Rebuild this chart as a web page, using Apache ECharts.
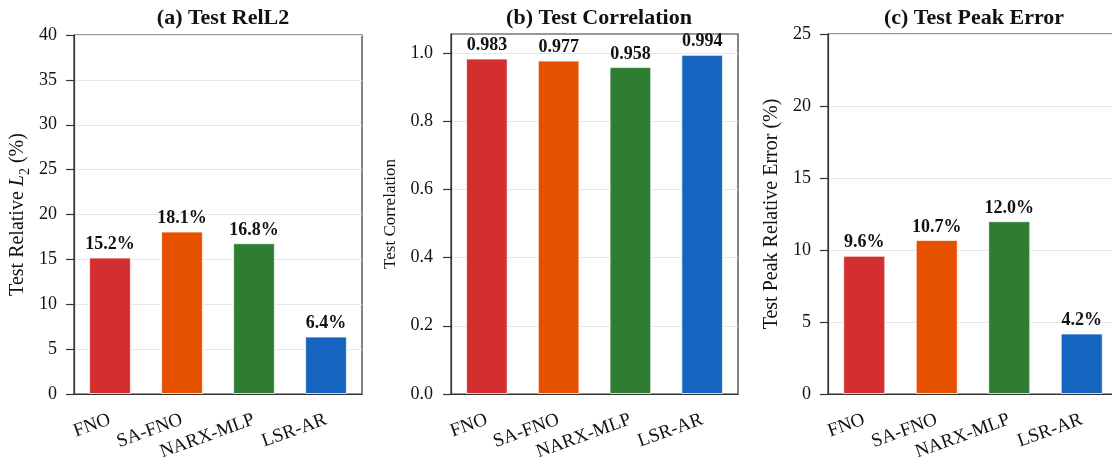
<!DOCTYPE html>
<html>
<head>
<meta charset="utf-8">
<script src="https://cdn.jsdelivr.net/npm/echarts@6/dist/echarts.min.js"></script>
<style>
  html, body { margin: 0; padding: 0; background: #fff; }
  #chart { width: 1112px; height: 460px; }
</style>
</head>
<body>
<div id="chart"></div>
<script>
const models = ['FNO', 'SA-FNO', 'NARX-MLP', 'LSR-AR'];
const colors = ['#d32f2f', '#e65100', '#2e7d32', '#1565c0'];

const relL2 = [15.2, 18.1, 16.8, 6.4];
const correlation = [0.983, 0.977, 0.958, 0.994];
const peakError = [9.6, 10.7, 12.0, 4.2];

const titles = ['(a) Test RelL2', '(b) Test Correlation', '(c) Test Peak Error'];
const corrTicks = [0, 0.2, 0.4, 0.6, 0.8, 1.0];

const FONT = 'Liberation Serif, Times New Roman, serif';
const AXIS = '#333';
const TEXT = '#111';

const grids = [
  { left: 74, top: 35, width: 288, height: 359 },
  { left: 451, top: 34, width: 287, height: 360 },
  { left: 828, top: 34, width: 290, height: 360 }
];

function xAxis(i) {
  return {
    type: 'category',
    gridIndex: i,
    data: models,
    axisLine: { lineStyle: { color: AXIS, width: 1.2 } },
    axisTick: { alignWithLabel: true, length: 8, lineStyle: { color: AXIS, width: 1.2 } },
    axisLabel: { rotate: 20, margin: 25, fontSize: 19, color: TEXT, fontFamily: FONT, interval: 0 }
  };
}

function yAxis(i, opts) {
  return Object.assign({
    type: 'value',
    gridIndex: i,
    min: 0,
    nameLocation: 'middle',
    nameGap: 46,
    nameTextStyle: { fontSize: 20, color: TEXT, fontFamily: FONT },
    axisLine: { show: true, lineStyle: { color: AXIS, width: 1.2 } },
    axisTick: { show: true, length: 8, lineStyle: { color: AXIS, width: 1.2 } },
    axisLabel: { fontSize: 18, color: TEXT, fontFamily: FONT, margin: 17 },
    splitLine: { lineStyle: { color: '#e8e8e8', width: 1 } }
  }, opts);
}

function barSeries(i, values, fmt) {
  return {
    type: 'bar',
    xAxisIndex: i,
    yAxisIndex: i,
    barWidth: '58%',
    data: values.map((v, k) => ({
      value: v,
      itemStyle: { color: colors[k], borderColor: 'rgba(255,255,255,0.7)', borderWidth: 1 }
    })),
    label: {
      show: true,
      position: 'top',
      distance: 4,
      fontSize: 18,
      fontWeight: 'bold',
      color: TEXT,
      fontFamily: FONT,
      formatter: p => fmt(p.value)
    }
  };
}

const chart = echarts.init(document.getElementById('chart'));
chart.setOption({
  backgroundColor: '#fff',
  animation: false,
  title: titles.map((t, i) => ({
    text: t,
    left: [218, 594, 969][i],
    top: 2,
    textAlign: 'center',
    textStyle: { fontSize: 22, fontWeight: 'bold', color: TEXT, fontFamily: FONT }
  })),
  grid: grids.map(g => Object.assign({
    show: true, borderColor: AXIS, borderWidth: 1.2,
    containLabel: false, outerBoundsMode: 'none'
  }, g)),
  xAxis: [xAxis(0), xAxis(1), xAxis(2)],
  yAxis: [
    yAxis(0, {
      max: 40, interval: 5,
      name: 'Test Relative {i|L}{s|2} (%)',
      nameGap: 46,
      nameTextStyle: {
        fontSize: 20, color: TEXT, fontFamily: FONT,
        rich: {
          i: { fontSize: 20, fontStyle: 'italic', color: TEXT, fontFamily: FONT },
          s: { fontSize: 14, color: TEXT, fontFamily: FONT, verticalAlign: 'bottom', padding: [0, 0, -4, 0] }
        }
      }
    }),
    yAxis(1, {
      max: 1.055,
      name: 'Test Correlation',
      nameGap: 52,
      nameTextStyle: { fontSize: 17, color: TEXT, fontFamily: FONT },
      axisTick: { show: true, length: 8, lineStyle: { color: AXIS, width: 1.2 }, customValues: corrTicks },
      axisLabel: {
        fontSize: 18, color: TEXT, fontFamily: FONT, margin: 18,
        customValues: corrTicks,
        formatter: v => v.toFixed(1)
      }
    }),
    yAxis(2, {
      max: 25, interval: 5,
      name: 'Test Peak Relative Error (%)',
      nameGap: 46
    })
  ],
  series: [
    barSeries(0, relL2, v => v.toFixed(1) + '%'),
    barSeries(1, correlation, v => v.toFixed(3)),
    barSeries(2, peakError, v => v.toFixed(1) + '%')
  ]
});
</script>
</body>
</html>
